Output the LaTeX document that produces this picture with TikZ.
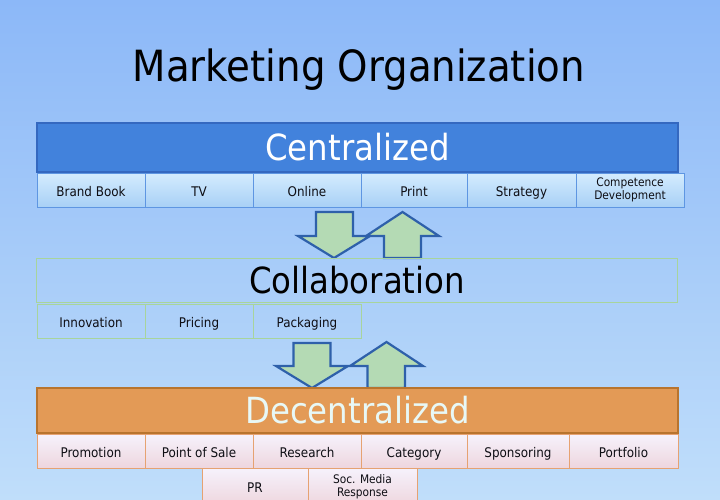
\documentclass[tikz,border=0pt]{standalone}
\usepackage{fontspec}
\setmainfont{DejaVu Sans Condensed}
\definecolor{bgtop}{HTML}{8CB8F8}
\definecolor{bgbot}{HTML}{C0DEFA}
\definecolor{cenfill}{HTML}{4282DC}
\definecolor{cenline}{HTML}{3468C0}
\definecolor{cbtop}{HTML}{D4ECFE}
\definecolor{cbbot}{HTML}{A8D0F6}
\definecolor{cbline}{HTML}{5E96E2}
\definecolor{colline}{HTML}{A8D49C}
\definecolor{decfill}{HTML}{E39A56}
\definecolor{decline}{HTML}{B8742E}
\definecolor{dectext}{HTML}{E8F8F6}
\definecolor{dbtop}{HTML}{F6F2FC}
\definecolor{dbbot}{HTML}{EED6DE}
\definecolor{dbline}{HTML}{E6A272}
\definecolor{arrfill}{HTML}{B4DAB4}
\definecolor{arrline}{HTML}{2E60AA}
\definecolor{textdark}{HTML}{0E0E14}
\tikzset{
  bar/.style={rectangle, inner sep=0pt, minimum width=641pt, font=\fontsize{36}{40}\selectfont},
  sub/.style={rectangle, inner sep=0pt, minimum height=34pt, text=textdark,
    font=\fontsize{13.3}{15}\selectfont, text height=12pt, text depth=0pt},
  subtwo/.style={rectangle, inner sep=0pt, minimum height=34pt, text=textdark,
    font=\fontsize{11.8}{13}\selectfont, align=center},
  cbox/.style={top color=cbtop, bottom color=cbbot, draw=cbline, line width=0.9pt},
  colbox/.style={draw=colline, line width=0.9pt},
  dbox/.style={top color=dbtop, bottom color=dbbot, draw=dbline, line width=0.9pt},
  blockarrow/.style={fill=arrfill, draw=arrline, line width=2.2pt, line join=miter},
}
\begin{document}
\begin{tikzpicture}[x=1pt,y=-1pt]
\useasboundingbox (0,0) rectangle (720,500);
\clip (0,0) rectangle (720,500);
\shade[top color=bgtop, bottom color=bgbot] (0,0) rectangle (720,500);

% title
\node[anchor=base, text=black, font=\fontsize{43}{48}\selectfont] (title) at (359,82) {Marketing Organization};

% Centralized
\node[bar, minimum height=49pt, fill=cenfill, draw=cenline, line width=1.2pt, text=white] (cen) at (357.5,147.5) {Centralized};
\node[sub, cbox, minimum width=108pt] (c1) at (91,190) {Brand Book};
\node[sub, cbox, minimum width=108pt] (c2) at (199,190) {TV};
\node[sub, cbox, minimum width=108pt] (c3) at (307,190) {Online};
\node[sub, cbox, minimum width=106pt] (c4) at (414,190) {Print};
\node[sub, cbox, minimum width=109pt] (c5) at (521.5,190) {Strategy};
\node[subtwo, cbox, minimum width=108pt] (c6) at (630,190) {Competence\\Development};

% arrows 1
\draw[blockarrow] (316,212) -- (353,212) -- (353,236) -- (370,236) -- (334,258) -- (298,236) -- (316,236) -- cycle;
\draw[blockarrow] (384,258) -- (421,258) -- (421,236) -- (439,236) -- (402.5,212) -- (366,236) -- (384,236) -- cycle;

% Collaboration
\node[bar, minimum height=44pt, colbox, text=black] (col) at (357,280) {Collaboration};
\node[sub, colbox, minimum width=108pt] (k1) at (91,321) {Innovation};
\node[sub, colbox, minimum width=108pt] (k2) at (199,321) {Pricing};
\node[sub, colbox, minimum width=108pt] (k3) at (307,321) {Packaging};

% arrows 2
\draw[blockarrow] (293.5,343) -- (330.5,343) -- (330.5,366) -- (348,366) -- (312,388) -- (276,366) -- (293.5,366) -- cycle;
\draw[blockarrow] (367.5,388) -- (405,388) -- (405,366) -- (423,366) -- (386.5,342) -- (350,366) -- (367.5,366) -- cycle;

% Decentralized
\node[bar, minimum height=45pt, fill=decfill, draw=decline, line width=1.2pt, text=dectext] (dec) at (357.5,410.5) {Decentralized};
\node[sub, dbox, minimum width=108pt] (d1) at (91,451) {Promotion};
\node[sub, dbox, minimum width=108pt] (d2) at (199,451) {Point of Sale};
\node[sub, dbox, minimum width=108pt] (d3) at (307,451) {Research};
\node[sub, dbox, minimum width=106pt] (d4) at (414,451) {Category};
\node[sub, dbox, minimum width=102pt] (d5) at (518,451) {Sponsoring};
\node[sub, dbox, minimum width=109pt] (d6) at (623.5,451) {Portfolio};
\node[sub, dbox, minimum width=106pt, minimum height=37pt] (d7) at (255,486.5) {PR};
\node[subtwo, dbox, minimum width=109pt, minimum height=37pt] (d8) at (362.5,486.5) {Soc. Media\\Response};
\end{tikzpicture}
\end{document}
